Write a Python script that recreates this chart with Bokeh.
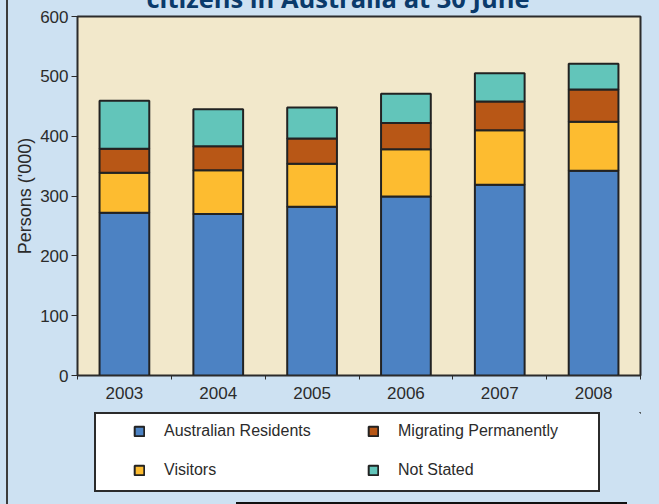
from bokeh.plotting import figure
from bokeh.layouts import column
from bokeh.models import ColumnDataSource, FixedTicker, Legend, LegendItem
from bokeh.embed import file_html
from bokeh.resources import INLINE

# ---- data ----
years = ["2003", "2004", "2005", "2006", "2007", "2008"]
residents = [272, 270, 282, 299, 319, 342]
visitors = [67, 73, 72, 79, 91, 82]
migrating = [40, 40, 42, 44, 48, 54]
not_stated = [80, 62, 52, 49, 47, 43]
series_names = ["Australian Residents", "Visitors", "Migrating Permanently", "Not Stated"]
y_ticks = [0, 100, 200, 300, 400, 500, 600]
title_text = "citizens in Australia at 30 June"
y_label = "Persons ('000)"

colors = ["#4c82c3", "#fdbc30", "#b85716", "#62c5ba"]
FONT = "Liberation Sans"
TXT = "#2b2b2b"
BG = "#cde1f2"
SHIFT = 34  # the title sits partly above the visible page, as in the original crop

xs = list(range(len(years)))
source = ColumnDataSource(dict(x=xs, res=residents, vis=visitors, mig=migrating, ns=not_stated))

fig = figure(width=659, height=412 + SHIFT, output_backend="svg", toolbar_location=None,
             title=title_text,
             x_range=(-0.5, len(years) - 0.5), y_range=(0, 600),
             min_border_left=77, min_border_right=19, min_border_top=16 + SHIFT,
             min_border_bottom=37)
fig.title.align = "left"
fig.title.offset = 69
fig.title.standoff = 4
fig.title.text_font = "Open Sans"
fig.title.text_font_style = "bold"
fig.title.text_font_size = "25.5px"
fig.title.text_color = "#0a3a6b"

fig.border_fill_alpha = 0
fig.background_fill_color = "#f2e8cb"
fig.outline_line_color = "#2b2b2b"
fig.outline_line_width = 2
fig.xgrid.grid_line_color = None
fig.ygrid.grid_line_color = None

renderers = fig.vbar_stack(["res", "vis", "mig", "ns"], x="x", width=0.53, source=source,
                           fill_color=colors, line_color="#222222", line_width=2)

# axes
fig.yaxis.ticker = FixedTicker(ticks=y_ticks)
fig.yaxis.axis_label = y_label
fig.yaxis.axis_label_text_font = FONT
fig.yaxis.axis_label_text_font_style = "normal"
fig.yaxis.axis_label_text_font_size = "18px"
fig.yaxis.axis_label_text_color = TXT
fig.yaxis.axis_label_standoff = 2
fig.yaxis.major_label_text_font = FONT
fig.yaxis.major_label_text_font_size = "17px"
fig.yaxis.major_label_text_color = TXT
fig.yaxis.major_label_standoff = 3
fig.yaxis.major_tick_out = 6
fig.yaxis.major_tick_in = 0
fig.yaxis.minor_tick_out = 0
fig.yaxis.minor_tick_in = 0
fig.yaxis.axis_line_color = "#2b2b2b"
fig.yaxis.major_tick_line_color = "#2b2b2b"

fig.xaxis.ticker = FixedTicker(ticks=xs, minor_ticks=[i - 0.5 for i in range(len(years) + 1)])
fig.xaxis.major_label_overrides = {i: y for i, y in enumerate(years)}
fig.xaxis.major_label_text_font = FONT
fig.xaxis.major_label_text_font_size = "17px"
fig.xaxis.major_label_text_color = TXT
fig.xaxis.major_label_standoff = 7
fig.xaxis.major_tick_out = 0
fig.xaxis.major_tick_in = 0
fig.xaxis.minor_tick_out = 4
fig.xaxis.minor_tick_in = 0
fig.xaxis.minor_tick_line_color = "#2b2b2b"
fig.xaxis.axis_line_color = "#2b2b2b"

# ---- legend panel (its own figure, so the legend is not clipped by the chart frame) ----
leg_fig = figure(width=659, height=92, output_backend="svg", toolbar_location=None,
                 x_axis_type=None, y_axis_type=None, min_border=0,
                 x_range=(1, 2), y_range=(1, 2))
leg_fig.border_fill_alpha = 0
leg_fig.background_fill_alpha = 0
leg_fig.outline_line_color = None
leg_fig.xgrid.grid_line_color = None
leg_fig.ygrid.grid_line_color = None
# swatch-only renderers, placed far outside the legend figure's visible range
swatches = [leg_fig.vbar(x=[100], bottom=[100], top=[101], width=0.5,
                         fill_color=c, line_color="#222222", line_width=2)
            for c in colors]

legend = Legend(items=[LegendItem(label=n, renderers=[r]) for n, r in zip(series_names, swatches)],
                location=(56, 24), orientation="vertical", ncols=2,
                padding=0, margin=0, spacing=19,
                glyph_width=12, glyph_height=12, label_height=20, label_width=184,
                label_standoff=19, label_text_font=FONT, label_text_font_size="16px",
                label_text_color=TXT, border_line_alpha=0, background_fill_alpha=0)
leg_fig.add_layout(legend, "center")

p = column(fig, leg_fig, spacing=0)
p.styles = {
    "margin-top": f"-{SHIFT}px",
    "background": (f"linear-gradient(#ffffff,#ffffff) 96px {414 + SHIFT}px / 502px 76px no-repeat, "
                   f"linear-gradient(#2b2b2b,#2b2b2b) 94px {412 + SHIFT}px / 506px 80px no-repeat, "
                   f"linear-gradient(#111111,#111111) 236px {502 + SHIFT}px / 391px 2px no-repeat, "
                   "linear-gradient(#3c3c3c,#3c3c3c) 6px 0px / 2px 100% no-repeat, "
                   + BG),
}

open("out.html", "w").write(file_html(p, INLINE))
